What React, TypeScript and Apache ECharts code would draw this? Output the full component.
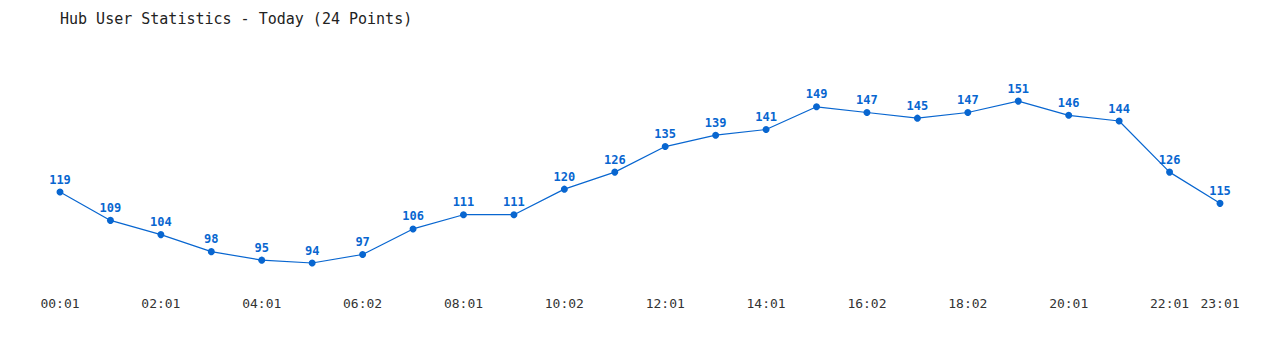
import React, { useEffect, useRef } from "react";
import * as echarts from "echarts";

const times = [
  "00:01", "01:01", "02:01", "03:01", "04:01", "05:01", "06:02", "07:01",
  "08:01", "09:01", "10:02", "11:01", "12:01", "13:01", "14:01", "15:01",
  "16:02", "17:01", "18:02", "19:01", "20:01", "21:01", "22:01", "23:01",
];
const users = [
  119, 109, 104, 98, 95, 94, 97, 106, 111, 111, 120, 126, 135, 139, 141, 149,
  147, 145, 147, 151, 146, 144, 126, 115,
];
const titleText = "Hub User Statistics - Today (24 Points)";

const MONO = "'DejaVu Sans Mono', 'Liberation Mono', monospace";
const BLUE = "#0866d0";

export default function App() {
  const ref = useRef<HTMLDivElement>(null);
  useEffect(() => {
    if (!ref.current) return;
    const chart = echarts.init(ref.current, null, { renderer: "svg" });
    chart.setOption({
      animation: false,
      backgroundColor: "#ffffff",
      title: {
        text: titleText,
        left: 47,
        top: -2,
        textStyle: { fontFamily: MONO, fontSize: 15, fontWeight: "normal", color: "#222" },
      },
      grid: { left: 52, right: 52, top: 81.76, bottom: 61.44 },
      xAxis: {
        type: "category",
        data: times,
        boundaryGap: false,
        axisLine: { show: false },
        axisTick: { show: false },
        axisLabel: {
          interval: (i: number) => i % 2 === 0 || i === times.length - 1,
          fontFamily: MONO,
          fontSize: 13,
          color: "#333",
          margin: 8,
        },
        splitLine: { show: false },
      },
      yAxis: {
        type: "value",
        min: 85,
        max: 155,
        show: false,
        splitLine: { show: false },
      },
      series: [
        {
          type: "line",
          data: users,
          symbol: "circle",
          symbolSize: 7,
          lineStyle: { color: BLUE, width: 1.2 },
          itemStyle: { color: BLUE },
          label: {
            show: true,
            position: "top",
            distance: 3,
            fontFamily: MONO,
            fontSize: 12,
            fontWeight: "bold",
            color: BLUE,
          },
        },
      ],
    });
    return () => chart.dispose();
  }, []);
  return <div ref={ref} style={{ width: 1264, height: 342 }} />;
}
